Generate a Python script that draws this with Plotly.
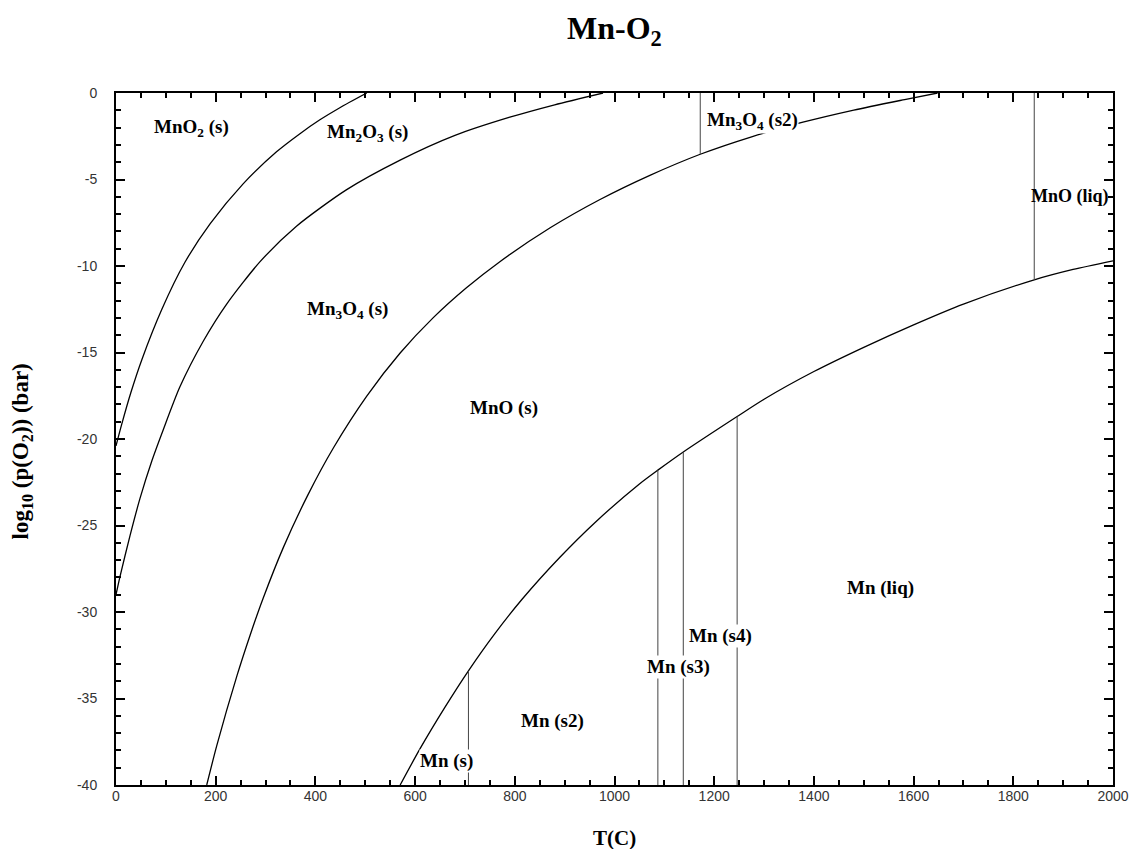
import plotly.graph_objects as go

# Phase boundaries of the Mn-O2 system: log10 p(O2) [bar] versus T [C]
mno2_mn2o3_T = [0, 11, 30, 52, 92, 138, 189, 255, 322, 369, 409, 449, 503]
mno2_mn2o3_logp = [-20.4, -19.2, -17.3, -15.4, -12.5, -9.8, -7.55, -5.25, -3.4, -2.35, -1.55, -0.85, 0.0]

mn2o3_mn3o4_T = [0, 8, 28, 48, 72, 95, 128, 175, 222, 289, 362, 462, 570, 680, 790, 880, 977]
mn2o3_mn3o4_logp = [-29.0, -27.95, -25.6, -23.45, -21.26, -19.45, -17.0, -14.35, -12.2, -9.75, -7.7,
                    -5.6, -3.88, -2.45, -1.4, -0.68, 0.0]

mn3o4_mno_T = [182, 202, 243, 269, 295, 336, 385, 436, 503, 570, 636, 703, 770, 871, 970, 1071,
               1172, 1275, 1378, 1480, 1582, 1648]
mn3o4_mno_logp = [-40.0, -37.74, -33.65, -31.34, -29.22, -26.25, -23.23, -20.52, -17.52, -15.03,
                  -13.0, -11.26, -9.75, -7.79, -6.17, -4.76, -3.54, -2.53, -1.69, -0.99, -0.38, 0.0]

mno_mn_T = [570, 610, 660, 707, 760, 815, 890, 960, 1050, 1087, 1138, 1246, 1300, 1400, 1500,
            1600, 1700, 1842, 1920, 2000]
mno_mn_logp = [-40.0, -37.9, -35.5, -33.4, -31.25, -29.25, -26.85, -24.85, -22.6, -21.8, -20.75,
               -18.7, -17.7, -16.1, -14.7, -13.4, -12.2, -10.8, -10.2, -9.7]

# Isothermal transitions: temperature, lower and upper log10 p(O2)
transition_T = [1172, 1842, 707, 1087, 1138, 1246]
transition_low = [-3.54, -10.8, -40.0, -40.0, -40.0, -40.0]
transition_high = [0.0, 0.0, -33.4, -21.8, -20.75, -18.7]

# Phase-field labels
phase_names = ["MnO<sub>2</sub> (s)", "Mn<sub>2</sub>O<sub>3</sub> (s)", "Mn<sub>3</sub>O<sub>4</sub> (s)",
               "MnO (s)", "Mn<sub>3</sub>O<sub>4</sub> (s2)", "Mn (liq)",
               "Mn (s4)", "Mn (s3)", "Mn (s2)", "Mn (s)"]
phase_T = [152, 505, 465, 778, 1276, 1533, 1212, 1129, 875, 662]
phase_logp = [-2.0, -2.3, -12.55, -18.2, -1.6, -28.6, -31.4, -33.2, -36.3, -38.6]
phase_boxed = [False, False, False, False, True, False, True, True, False, True]

# Label of the liquid-oxide field, set flush against the right frame
liquid_oxide_name = "MnO (liq)"
liquid_oxide_T = 1993
liquid_oxide_logp = -6.0

# Axis ticks
x_ticks = [0, 200, 400, 600, 800, 1000, 1200, 1400, 1600, 1800, 2000]
y_ticks = [0, -5, -10, -15, -20, -25, -30, -35, -40]
y_tick_text = ["0", "-5", "-10", "-15", "-20", "-25", "-30", "-35", "-40"]

serif = "Liberation Serif, Times New Roman, serif"
sans = "Liberation Sans, Arial, sans-serif"

fig = go.Figure()

for xs, ys in [(mno2_mn2o3_T, mno2_mn2o3_logp), (mn2o3_mn3o4_T, mn2o3_mn3o4_logp),
               (mn3o4_mno_T, mn3o4_mno_logp), (mno_mn_T, mno_mn_logp)]:
    fig.add_trace(go.Scatter(x=xs, y=ys, mode="lines",
                             line=dict(color="black", width=1.3, shape="spline", smoothing=0.7),
                             hoverinfo="skip", showlegend=False))

for t, lo, hi in zip(transition_T, transition_low, transition_high):
    fig.add_trace(go.Scatter(x=[t, t], y=[lo, hi], mode="lines",
                             line=dict(color="#444444", width=1),
                             hoverinfo="skip", showlegend=False))

for name, t, lp, boxed in zip(phase_names, phase_T, phase_logp, phase_boxed):
    fig.add_annotation(x=t, y=lp, text="<b>" + name + "</b>", showarrow=False,
                       font=dict(family=serif, size=19, color="black"),
                       bgcolor="white" if boxed else "rgba(0,0,0,0)", borderpad=0)

fig.add_annotation(x=liquid_oxide_T, y=liquid_oxide_logp, text="<b>" + liquid_oxide_name + "</b>",
                   showarrow=False, xanchor="right",
                   font=dict(family=serif, size=18, color="black"), borderpad=0)

fig.add_annotation(xref="paper", yref="paper", x=0.5, y=1.091, text="<b>Mn-O<sub>2</sub></b>",
                   showarrow=False, yanchor="middle",
                   font=dict(family=serif, size=32, color="black"))
fig.add_annotation(xref="paper", yref="paper", x=0.5, y=-0.077, text="<b>T(C)</b>",
                   showarrow=False, yanchor="middle",
                   font=dict(family=serif, size=21, color="black"))
fig.add_annotation(xref="paper", yref="paper", x=-0.094, y=0.4825,
                   text="<b>log<sub>10</sub> (p(O<sub>2</sub>)) (bar)</b>",
                   showarrow=False, textangle=-90, xanchor="center", yanchor="middle",
                   font=dict(family=serif, size=23, color="black"))

axis_common = dict(showgrid=False, zeroline=False, showline=True, linecolor="black", linewidth=2,
                   mirror="ticks", ticks="inside", ticklen=9, tickwidth=2, tickcolor="black",
                   automargin=False,
                   tickfont=dict(family=sans, size=14, color="#333333"))

fig.update_xaxes(range=[0, 2000], tickmode="array", tickvals=x_ticks,
                 ticktext=[str(v) for v in x_ticks],
                 minor=dict(dtick=50, tick0=0, ticks="inside", ticklen=5, tickwidth=1.5,
                            tickcolor="black"),
                 ticklabelstandoff=-3, **axis_common)
fig.update_yaxes(range=[-40, 0], tickmode="array", tickvals=y_ticks, ticktext=y_tick_text,
                 minor=dict(dtick=1, tick0=0, ticks="inside", ticklen=5, tickwidth=1.5,
                            tickcolor="black"),
                 ticklabelstandoff=14, **axis_common)

fig.update_layout(width=1132, height=849, margin=dict(l=116, r=19, t=93, b=64),
                  paper_bgcolor="white", plot_bgcolor="white")

fig.write_html("out.html")
